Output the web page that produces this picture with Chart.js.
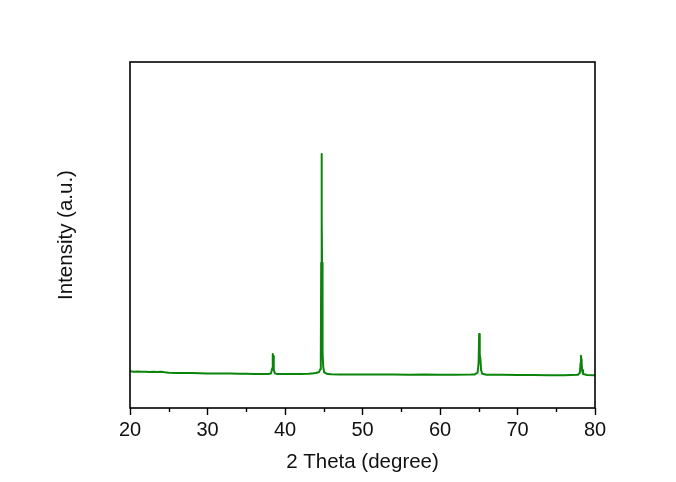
<!DOCTYPE html>
<html lang="en">
<head>
    <meta charset="UTF-8">
    <title>XRD Pattern</title>
    <script src="https://cdn.jsdelivr.net/npm/chart.js"></script>
    <style>
        body { margin: 0; background: #fff; }
        #xrdChart { display: block; }
    </style>
</head>
<body>
    <canvas id="xrdChart" width="676" height="482"></canvas>

    <script>
        // diffraction angle (degrees) and measured intensity (a.u.)
        const twoTheta = [
            20.0, 20.5, 21.0, 21.5, 22.0, 22.5, 23.0, 23.5, 24.0, 24.5,
            25.0, 26.0, 27.0, 28.0, 29.0, 30.0, 31.0, 32.0, 33.0, 34.0,
            35.0, 36.0, 37.0, 37.8, 38.2, 38.35, 38.42, 38.47, 38.52, 38.58,
            38.7, 39.0, 40.0, 41.0, 42.0, 43.0, 43.5, 44.0, 44.4, 44.55,
            44.62, 44.67, 44.72, 44.75, 44.78, 44.82, 44.87, 44.93, 45.05, 45.5,
            46.0, 47.0, 48.0, 49.0, 50.0, 52.0, 54.0, 56.0, 58.0, 60.0,
            62.0, 64.0, 64.5, 64.85, 64.98, 65.05, 65.1, 65.16, 65.22, 65.3,
            65.45, 66.0, 68.0, 70.0, 72.0, 74.0, 76.0, 77.8, 78.05, 78.14,
            78.19, 78.24, 78.28, 78.33, 78.45, 79.0, 80.0
        ];
        const intensity = [
            10.6, 10.5, 10.55, 10.45, 10.5, 10.4, 10.45, 10.4, 10.45, 10.3,
            10.2, 10.15, 10.1, 10.1, 10.05, 10.0, 10.0, 9.95, 9.95, 9.9,
            9.9, 9.85, 9.85, 9.85, 10.0, 11.5, 15.6, 15.0, 13.0, 11.0,
            10.0, 9.8, 9.8, 9.8, 9.8, 9.9, 10.0, 10.1, 10.4, 11.2,
            14.0, 42.0, 73.4, 55.0, 42.0, 22.0, 16.0, 12.0, 10.3, 9.8,
            9.75, 9.7, 9.7, 9.7, 9.65, 9.65, 9.65, 9.6, 9.65, 9.6,
            9.6, 9.65, 9.7, 10.2, 13.0, 21.4, 20.0, 15.4, 14.0, 11.0,
            9.9, 9.6, 9.6, 9.55, 9.55, 9.5, 9.5, 9.6, 10.2, 13.0,
            15.1, 14.0, 13.0, 11.0, 9.8, 9.55, 9.5
        ];
        const majorTicks = [20, 30, 40, 50, 60, 70, 80];
        const minorTicks = [25, 35, 45, 55, 65, 75];

        const fontFamily = '"Liberation Sans", Arial, sans-serif';
        const inkColor = '#111';

        // box around the plot and the short minor ticks under the x axis
        const framePlugin = {
            id: 'frame',
            afterDraw(chart) {
                const { ctx, chartArea: a } = chart;
                const xs = chart.scales.x;
                ctx.save();
                ctx.strokeStyle = '#000';
                ctx.lineWidth = 1.6;
                ctx.strokeRect(a.left, a.top, a.right - a.left, a.bottom - a.top);
                ctx.lineWidth = 1.4;
                ctx.beginPath();
                minorTicks.forEach(v => {
                    const px = Math.round(xs.getPixelForValue(v)) + 0.5;
                    ctx.moveTo(px, a.bottom);
                    ctx.lineTo(px, a.bottom + 4);
                });
                ctx.stroke();
                ctx.restore();
            }
        };

        new Chart(document.getElementById('xrdChart'), {
            type: 'line',
            data: {
                datasets: [{
                    data: twoTheta.map((t, i) => ({ x: t, y: intensity[i] })),
                    borderColor: '#0b840b',
                    borderWidth: 2,
                    borderJoinStyle: 'round',
                    pointRadius: 0,
                    tension: 0,
                    fill: false
                }]
            },
            options: {
                responsive: false,
                animation: false,
                events: [],
                layout: { padding: { left: 50, right: 81, top: 62, bottom: 3 } },
                plugins: {
                    legend: { display: false },
                    tooltip: { enabled: false }
                },
                scales: {
                    x: {
                        type: 'linear',
                        min: 20,
                        max: 80,
                        afterFit: s => { s.height = 71; },
                        afterBuildTicks: s => { s.ticks = majorTicks.map(v => ({ value: v })); },
                        ticks: {
                            padding: 3,
                            color: inkColor,
                            font: { family: fontFamily, size: 20 }
                        },
                        grid: {
                            drawOnChartArea: false,
                            drawTicks: true,
                            tickLength: 7,
                            tickColor: '#000',
                            tickWidth: 1.4
                        },
                        border: { display: false },
                        title: {
                            display: true,
                            text: '2 Theta (degree)',
                            color: inkColor,
                            padding: { top: 0, bottom: 4 },
                            font: { family: fontFamily, size: 20.5 }
                        }
                    },
                    y: {
                        min: 0,
                        max: 100,
                        afterFit: s => { s.width = 80; },
                        ticks: { display: false },
                        grid: { display: false },
                        border: { display: false },
                        title: {
                            display: true,
                            text: 'Intensity (a.u.)',
                            color: inkColor,
                            padding: { top: 4, bottom: 0 },
                            font: { family: fontFamily, size: 20.5 }
                        }
                    }
                }
            },
            plugins: [framePlugin]
        });
    </script>
</body>
</html>
